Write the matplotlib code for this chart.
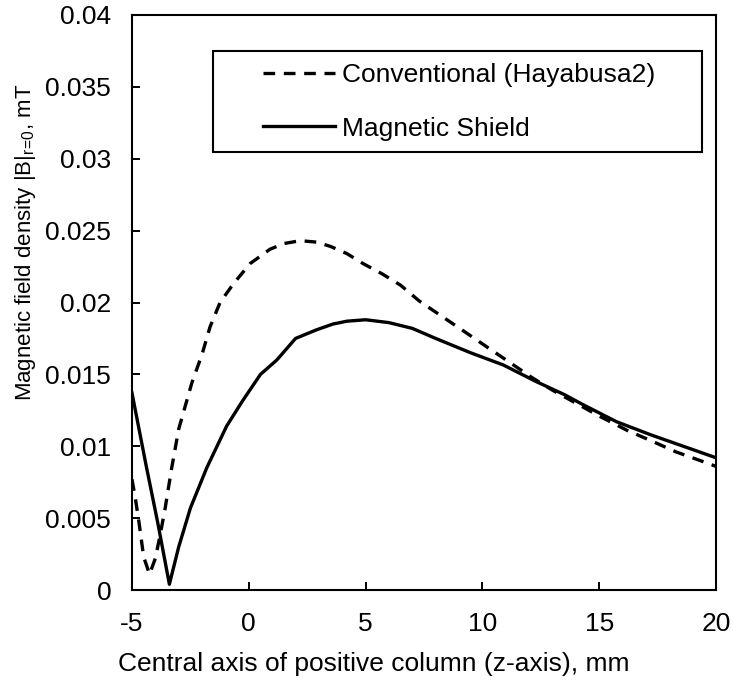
import matplotlib
matplotlib.use("Agg")
import matplotlib.pyplot as plt
from matplotlib.patches import Rectangle

plt.rcParams['font.family'] = ['Liberation Sans', 'DejaVu Sans']
plt.rcParams['mathtext.fontset'] = 'custom'
plt.rcParams['mathtext.rm'] = 'Liberation Sans'
plt.rcParams['mathtext.it'] = 'Liberation Sans:italic'

# Conventional (Hayabusa2) - dashed
z_conv = [-5.0, -4.85, -4.7, -4.5, -4.25, -4.0, -3.8, -3.6, -3.3, -3.0, -2.44,
          -2.0, -1.66, -1.23, -0.66, 0.05, 0.9, 1.5, 2.2, 2.9, 3.5, 4.2, 4.9,
          5.7, 6.5, 7.3, 8.3, 9.3, 10.2, 11.2, 12.1, 13.0, 14.0, 15.0, 16.2,
          17.2, 18.3, 19.5, 20.0]
b_conv = [0.0077, 0.0063, 0.0047, 0.0023, 0.0011, 0.0022, 0.0038, 0.0055, 0.0085,
          0.0112, 0.0144, 0.0164, 0.0183, 0.0200, 0.0213, 0.0227, 0.0237, 0.0241,
          0.0243, 0.0242, 0.0239, 0.0234, 0.0227, 0.0220, 0.0212, 0.0201, 0.0190,
          0.0179, 0.0169, 0.0158, 0.0148, 0.0139, 0.0130, 0.0121, 0.0111, 0.0104,
          0.0096, 0.0089, 0.0086]

# Magnetic Shield - solid
z_ms = [-5.0, -4.4, -3.9, -3.4, -3.0, -2.5, -1.8, -0.95, -0.25, 0.5, 1.2, 2.0,
        2.9, 3.6, 4.2, 5.0, 6.0, 7.0, 8.0, 9.5, 10.9, 12.3, 13.5, 14.3, 15.75,
        17.2, 18.6, 20.0]
b_ms = [0.0137, 0.0087, 0.0047, 0.0004, 0.0030, 0.0057, 0.0085, 0.0114, 0.0132,
        0.0150, 0.0160, 0.0175, 0.0181, 0.0185, 0.0187, 0.0188, 0.0186, 0.0182,
        0.0175, 0.0165, 0.01565, 0.0145, 0.0136, 0.0129, 0.0117, 0.0108, 0.0100,
        0.0092]

x_ticks = [-5, 0, 5, 10, 15, 20]
y_ticks = [0, 0.005, 0.01, 0.015, 0.02, 0.025, 0.03, 0.035, 0.04]
y_ticklabels = ['0', '0.005', '0.01', '0.015', '0.02', '0.025', '0.03', '0.035', '0.04']

W, H = 733, 685
fig = plt.figure(figsize=(W / 100, H / 100), dpi=100)
left, right, top, bottom = 132, 716, 15, 590
ax = fig.add_axes([left / W, 1 - bottom / H, (right - left) / W, (bottom - top) / H])

fs = 19
lw = 2.4
l1, = ax.plot(z_conv, b_conv, color='black', lw=lw, linestyle=(0, (3.5, 2.6)),
              dash_capstyle='butt', label='Conventional (Hayabusa2)')
l2, = ax.plot(z_ms, b_ms, color='black', lw=lw, label='Magnetic Shield')

ax.set_xlim(-5, 20)
ax.set_ylim(0, 0.04)
ax.set_xticks(x_ticks)
ax.set_xticklabels([str(t) for t in x_ticks])
ax.set_yticks(y_ticks)
ax.set_yticklabels(y_ticklabels)
ax.tick_params(axis='both', direction='in', length=6, width=1.4, labelsize=fs)
ax.tick_params(axis='y', pad=15)
ax.tick_params(axis='x', pad=16)
for s in ax.spines.values():
    s.set_linewidth(1.5)
    s.set_color('black')

fig.text(374 / W, 1 - 664 / H, 'Central axis of positive column (z-axis), mm',
         ha='center', va='center', fontsize=fs)
fig.text(26 / W, 1 - 242 / H,
         r'Magnetic field density |B|$_{\mathrm{r\!=\!0}}$, mT',
         ha='center', va='center', rotation=90, fontsize=16)

# legend frame
def ax_x(px):
    return (px - left) / (right - left)

def ax_y(py):
    return (bottom - py) / (bottom - top)

ax.add_patch(Rectangle((ax_x(213), ax_y(152)), ax_x(702) - ax_x(213), ax_y(51) - ax_y(152),
                       transform=ax.transAxes, fill=False, edgecolor='black', lw=1.5,
                       zorder=5))
leg = ax.legend(handles=[l1, l2], loc='upper left',
                bbox_to_anchor=(ax_x(263), ax_y(63)), frameon=False, fontsize=fs,
                borderpad=0, borderaxespad=0, handlelength=72 / 26.4,
                handletextpad=0.27, labelspacing=1.12)

fig.savefig('out.png', dpi=100)
